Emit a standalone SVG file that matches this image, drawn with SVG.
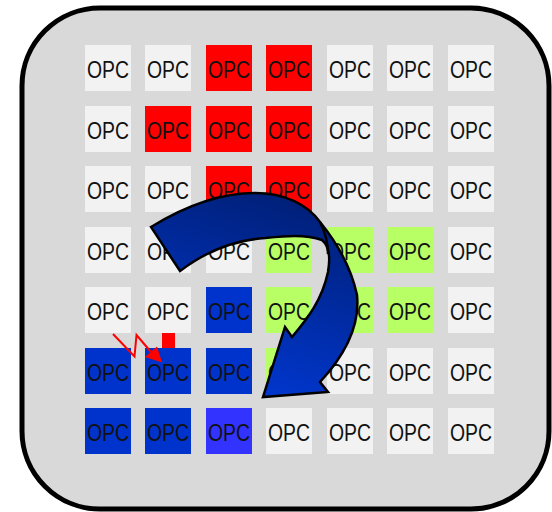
<svg xmlns="http://www.w3.org/2000/svg" width="552" height="512" viewBox="0 0 552 512">
<defs>
<style>
.w{fill:#f2f2f2}.r{fill:#ff0000}.g{fill:#b8ff66}.b{fill:#0033cc}.b2{fill:#3333ff}
text{font-family:"Liberation Sans",Arial,sans-serif;font-size:23px;fill:#111;text-anchor:middle}
</style>
<linearGradient id="ag" gradientUnits="userSpaceOnUse" x1="330" y1="215" x2="270" y2="395">
<stop offset="0" stop-color="#00207a"/>
<stop offset="1" stop-color="#0036cc"/>
</linearGradient>
<marker id="rh" viewBox="0 0 10 10" refX="9" refY="5" markerWidth="5" markerHeight="5" orient="auto" markerUnits="strokeWidth">
<path d="M0,0 L10,5 L0,10 Z" fill="#ff0000"/>
</marker>
</defs>
<rect id="panel" x="22" y="8" width="527" height="501" rx="78" fill="#d9d9d9" stroke="#000" stroke-width="5"/>
<g id="cells">
<g id="c11"><rect class="w" x="85" y="45" width="46" height="46"/><text x="108" y="78" textLength="42" lengthAdjust="spacingAndGlyphs">OPC</text></g>
<g id="c12"><rect class="w" x="145" y="45" width="46" height="46"/><text x="168" y="78" textLength="42" lengthAdjust="spacingAndGlyphs">OPC</text></g>
<g id="c13"><rect class="r" x="206" y="45" width="46" height="46"/><text x="229" y="78" textLength="42" lengthAdjust="spacingAndGlyphs">OPC</text></g>
<g id="c14"><rect class="r" x="266" y="45" width="46" height="46"/><text x="289" y="78" textLength="42" lengthAdjust="spacingAndGlyphs">OPC</text></g>
<g id="c15"><rect class="w" x="327" y="45" width="46" height="46"/><text x="350" y="78" textLength="42" lengthAdjust="spacingAndGlyphs">OPC</text></g>
<g id="c16"><rect class="w" x="387" y="45" width="46" height="46"/><text x="410" y="78" textLength="42" lengthAdjust="spacingAndGlyphs">OPC</text></g>
<g id="c17"><rect class="w" x="448" y="45" width="46" height="46"/><text x="471" y="78" textLength="42" lengthAdjust="spacingAndGlyphs">OPC</text></g>

<g id="c21"><rect class="w" x="85" y="106" width="46" height="46"/><text x="108" y="139" textLength="42" lengthAdjust="spacingAndGlyphs">OPC</text></g>
<g id="c22"><rect class="r" x="145" y="106" width="46" height="46"/><text x="168" y="139" textLength="42" lengthAdjust="spacingAndGlyphs">OPC</text></g>
<g id="c23"><rect class="r" x="206" y="106" width="46" height="46"/><text x="229" y="139" textLength="42" lengthAdjust="spacingAndGlyphs">OPC</text></g>
<g id="c24"><rect class="r" x="266" y="106" width="46" height="46"/><text x="289" y="139" textLength="42" lengthAdjust="spacingAndGlyphs">OPC</text></g>
<g id="c25"><rect class="w" x="327" y="106" width="46" height="46"/><text x="350" y="139" textLength="42" lengthAdjust="spacingAndGlyphs">OPC</text></g>
<g id="c26"><rect class="w" x="387" y="106" width="46" height="46"/><text x="410" y="139" textLength="42" lengthAdjust="spacingAndGlyphs">OPC</text></g>
<g id="c27"><rect class="w" x="448" y="106" width="46" height="46"/><text x="471" y="139" textLength="42" lengthAdjust="spacingAndGlyphs">OPC</text></g>

<g id="c31"><rect class="w" x="85" y="166" width="46" height="46"/><text x="108" y="199" textLength="42" lengthAdjust="spacingAndGlyphs">OPC</text></g>
<g id="c32"><rect class="w" x="145" y="166" width="46" height="46"/><text x="168" y="199" textLength="42" lengthAdjust="spacingAndGlyphs">OPC</text></g>
<g id="c33"><rect class="r" x="206" y="166" width="46" height="46"/><text x="229" y="199" textLength="42" lengthAdjust="spacingAndGlyphs">OPC</text></g>
<g id="c34"><rect class="r" x="266" y="166" width="46" height="46"/><text x="289" y="199" textLength="42" lengthAdjust="spacingAndGlyphs">OPC</text></g>
<g id="c35"><rect class="w" x="327" y="166" width="46" height="46"/><text x="350" y="199" textLength="42" lengthAdjust="spacingAndGlyphs">OPC</text></g>
<g id="c36"><rect class="w" x="387" y="166" width="46" height="46"/><text x="410" y="199" textLength="42" lengthAdjust="spacingAndGlyphs">OPC</text></g>
<g id="c37"><rect class="w" x="448" y="166" width="46" height="46"/><text x="471" y="199" textLength="42" lengthAdjust="spacingAndGlyphs">OPC</text></g>

<g id="c41"><rect class="w" x="85" y="227" width="46" height="46"/><text x="108" y="260" textLength="42" lengthAdjust="spacingAndGlyphs">OPC</text></g>
<g id="c42"><rect class="w" x="145" y="227" width="46" height="46"/><text x="168" y="260" textLength="42" lengthAdjust="spacingAndGlyphs">OPC</text></g>
<g id="c43"><rect class="w" x="206" y="227" width="46" height="46"/><text x="229" y="260" textLength="42" lengthAdjust="spacingAndGlyphs">OPC</text></g>
<g id="c44"><rect class="g" x="266" y="227" width="46" height="46"/><text x="289" y="260" textLength="42" lengthAdjust="spacingAndGlyphs">OPC</text></g>
<g id="c45"><rect class="g" x="327" y="227" width="46" height="46"/><text x="350" y="260" textLength="42" lengthAdjust="spacingAndGlyphs">OPC</text></g>
<g id="c46"><rect class="g" x="387" y="227" width="46" height="46"/><text x="410" y="260" textLength="42" lengthAdjust="spacingAndGlyphs">OPC</text></g>
<g id="c47"><rect class="w" x="448" y="227" width="46" height="46"/><text x="471" y="260" textLength="42" lengthAdjust="spacingAndGlyphs">OPC</text></g>

<g id="c51"><rect class="w" x="85" y="287" width="46" height="46"/><text x="108" y="320" textLength="42" lengthAdjust="spacingAndGlyphs">OPC</text></g>
<g id="c52"><rect class="w" x="145" y="287" width="46" height="46"/><text x="168" y="320" textLength="42" lengthAdjust="spacingAndGlyphs">OPC</text></g>
<g id="c53"><rect class="b" x="206" y="287" width="46" height="46"/><text x="229" y="320" textLength="42" lengthAdjust="spacingAndGlyphs">OPC</text></g>
<g id="c54"><rect class="g" x="266" y="287" width="46" height="46"/><text x="289" y="320" textLength="42" lengthAdjust="spacingAndGlyphs">OPC</text></g>
<g id="c55"><rect class="g" x="327" y="287" width="46" height="46"/><text x="350" y="320" textLength="42" lengthAdjust="spacingAndGlyphs">OPC</text></g>
<g id="c56"><rect class="g" x="387" y="287" width="46" height="46"/><text x="410" y="320" textLength="42" lengthAdjust="spacingAndGlyphs">OPC</text></g>
<g id="c57"><rect class="w" x="448" y="287" width="46" height="46"/><text x="471" y="320" textLength="42" lengthAdjust="spacingAndGlyphs">OPC</text></g>

<g id="c61"><rect class="b" x="85" y="348" width="46" height="46"/><text x="108" y="381" textLength="42" lengthAdjust="spacingAndGlyphs">OPC</text></g>
<g id="c62"><rect class="b" x="145" y="348" width="46" height="46"/><text x="168" y="381" textLength="42" lengthAdjust="spacingAndGlyphs">OPC</text></g>
<g id="c63"><rect class="b" x="206" y="348" width="46" height="46"/><text x="229" y="381" textLength="42" lengthAdjust="spacingAndGlyphs">OPC</text></g>
<g id="c64"><rect class="g" x="266" y="348" width="46" height="46"/><text x="289" y="381" textLength="42" lengthAdjust="spacingAndGlyphs">OPC</text></g>
<g id="c65"><rect class="w" x="327" y="348" width="46" height="46"/><text x="350" y="381" textLength="42" lengthAdjust="spacingAndGlyphs">OPC</text></g>
<g id="c66"><rect class="w" x="387" y="348" width="46" height="46"/><text x="410" y="381" textLength="42" lengthAdjust="spacingAndGlyphs">OPC</text></g>
<g id="c67"><rect class="w" x="448" y="348" width="46" height="46"/><text x="471" y="381" textLength="42" lengthAdjust="spacingAndGlyphs">OPC</text></g>

<g id="c71"><rect class="b" x="85" y="408" width="46" height="46"/><text x="108" y="441" textLength="42" lengthAdjust="spacingAndGlyphs">OPC</text></g>
<g id="c72"><rect class="b" x="145" y="408" width="46" height="46"/><text x="168" y="441" textLength="42" lengthAdjust="spacingAndGlyphs">OPC</text></g>
<g id="c73"><rect class="b2" x="206" y="408" width="46" height="46"/><text x="229" y="441" textLength="42" lengthAdjust="spacingAndGlyphs">OPC</text></g>
<g id="c74"><rect class="w" x="266" y="408" width="46" height="46"/><text x="289" y="441" textLength="42" lengthAdjust="spacingAndGlyphs">OPC</text></g>
<g id="c75"><rect class="w" x="327" y="408" width="46" height="46"/><text x="350" y="441" textLength="42" lengthAdjust="spacingAndGlyphs">OPC</text></g>
<g id="c76"><rect class="w" x="387" y="408" width="46" height="46"/><text x="410" y="441" textLength="42" lengthAdjust="spacingAndGlyphs">OPC</text></g>
<g id="c77"><rect class="w" x="448" y="408" width="46" height="46"/><text x="471" y="441" textLength="42" lengthAdjust="spacingAndGlyphs">OPC</text></g>
</g>
<g id="marker-square"><rect x="162" y="333" width="13" height="15" fill="#ff0000"/></g>
<g id="connectors">
<path d="M151,227 C190,203 225,193 255,193 C285,193 308,205 320,222 C333,238 350,262 357,295 C360,325 345,355 320,382 L328,392 L263,397 L285,327 L292,337 C308,318 322,300 328,272 C331,255 328,245 322,240 C305,234 285,236 265,238 C235,240 205,252 180,271 Z" fill="url(#ag)" stroke="#000" stroke-width="2.5" stroke-linejoin="miter"/>
<path d="M320,222 C325,232 328,242 328,254" fill="none" stroke="#000" stroke-width="2.5"/>
<path d="M113,334 L134.5,356.5 L136.5,335 L151,352" fill="none" stroke="#ff0000" stroke-width="2"/>
<polygon points="145,357 157,346.5 162,362.5" fill="#ff0000"/>
</g>
</svg>
